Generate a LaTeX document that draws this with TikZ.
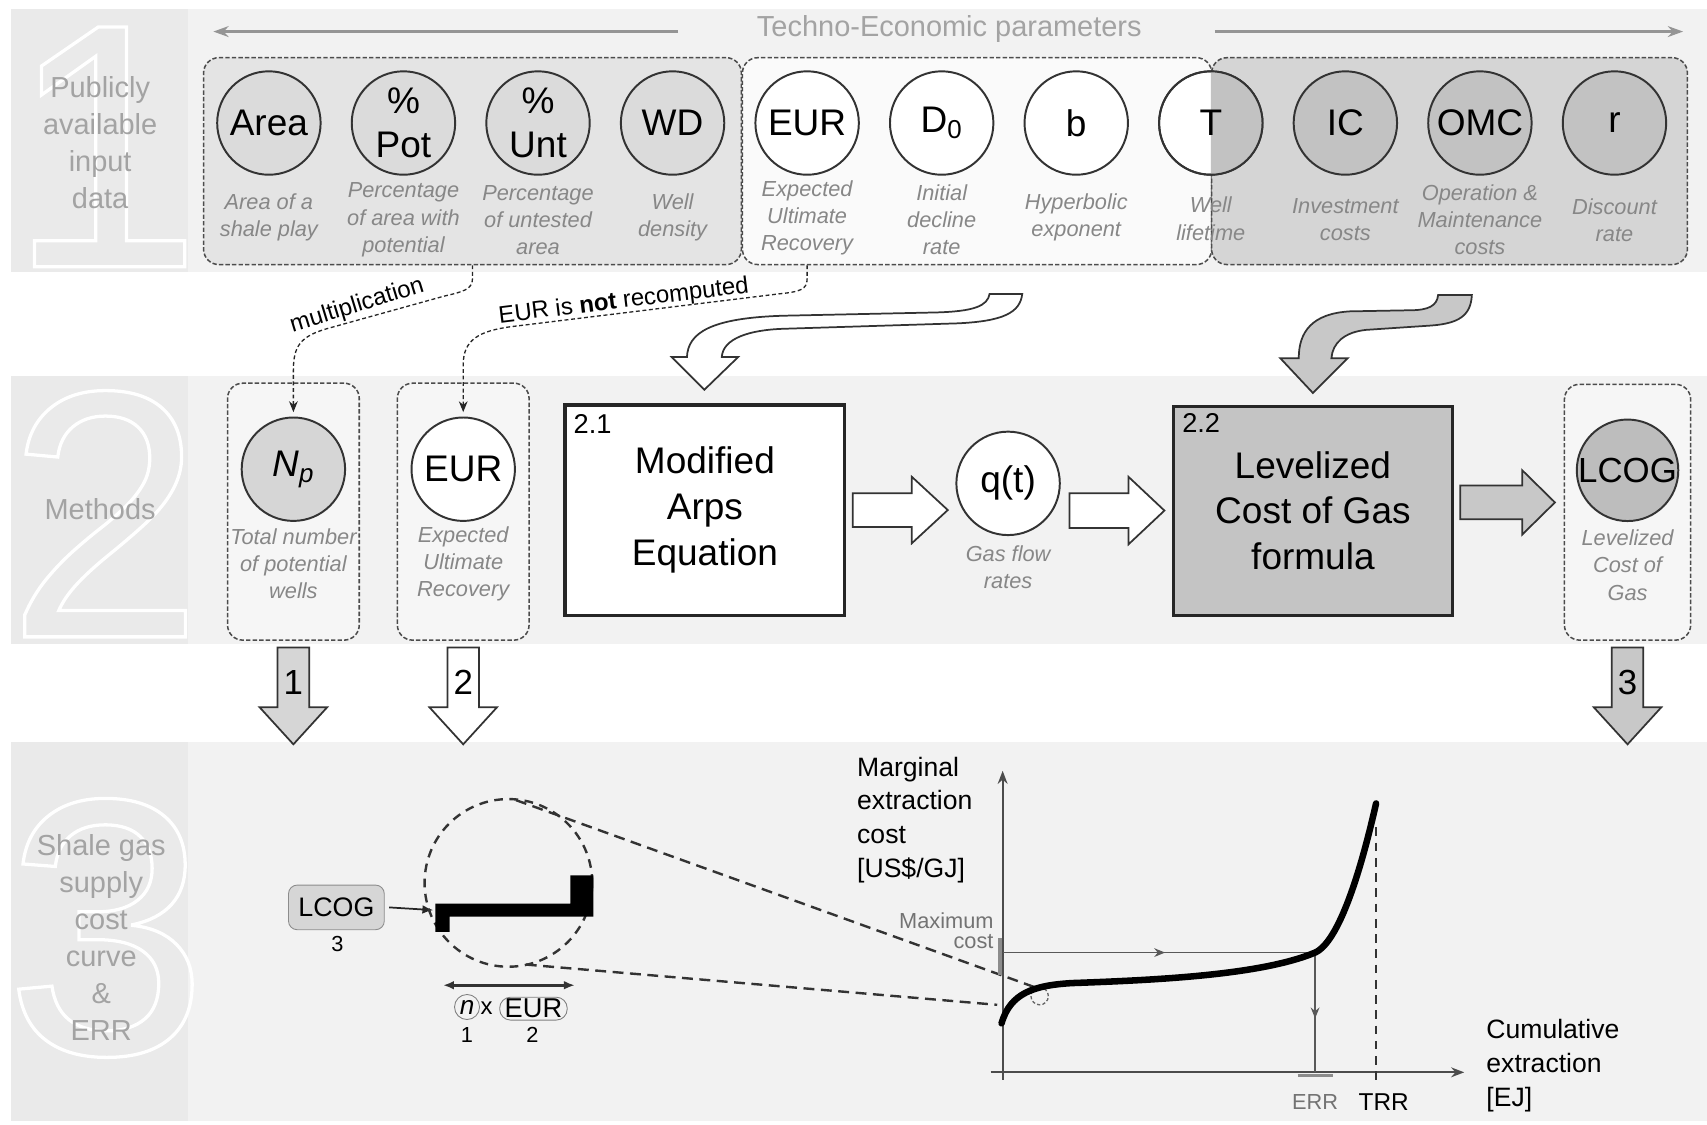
\documentclass[tikz,border=0pt]{standalone}
\usepackage{fontspec}
\setmainfont{Liberation Sans}
\usetikzlibrary{arrows.meta,calc,decorations.markings}
\definecolor{bandbg}{HTML}{F2F2F2}
\definecolor{sidebg}{HTML}{EAEAEA}
\definecolor{grpA}{HTML}{E4E4E4}
\definecolor{circA}{HTML}{DBDBDB}
\definecolor{grpB}{HTML}{FAFAFA}
\definecolor{grpC}{HTML}{D5D5D5}
\definecolor{circC}{HTML}{C2C2C2}
\definecolor{npfill}{HTML}{D6D6D6}
\definecolor{lcogfill}{HTML}{BDBDBD}
\definecolor{boxgray}{HTML}{C4C4C4}
\definecolor{arrgray}{HTML}{C8C8C8}
\definecolor{arrlight}{HTML}{D6D6D6}
\definecolor{innerbox}{HTML}{F6F6F6}
\definecolor{txtgray}{HTML}{878787}
\definecolor{sidetxt}{HTML}{A3A3A3}
\definecolor{linegray}{HTML}{959595}
\definecolor{edge}{HTML}{333333}
\newcommand\fCirc{\fontsize{17}{20}\selectfont}
\newcommand\fDesc{\fontsize{10}{12.5}\selectfont\itshape}
\newcommand\fSide{\fontsize{13.3}{17}\selectfont}
\newcommand\fBox{\fontsize{17}{21}\selectfont}
\newcommand\fLbl{\fontsize{11}{13}\selectfont}
\newcommand\fGraph{\fontsize{12.2}{15.5}\selectfont}
\newcommand\fNum{\fontsize{16}{18}\selectfont}
\newcommand\fTiny{\fontsize{10}{12}\selectfont}
\newcommand\outlinedigit[1]{\special{pdf:literal direct q 1 Tr 1.5 w 1 1 1 RG}#1\special{pdf:literal direct Q}}
\newcommand\blockH[6]{\draw[#1] ($(#2)+(0,-#4)$) -- ($(#3)+(-#6,-#4)$) -- ($(#3)+(-#6,-#5)$) -- (#3) -- ($(#3)+(-#6,#5)$) -- ($(#3)+(-#6,#4)$) -- ($(#2)+(0,#4)$) -- cycle;}
\newcommand\blockV[6]{\draw[#1] ($(#2)+(-#4,0)$) -- ($(#3)+(-#4,-#6)$) -- ($(#3)+(-#5,-#6)$) -- (#3) -- ($(#3)+(#5,-#6)$) -- ($(#3)+(#4,-#6)$) -- ($(#2)+(#4,0)$) -- cycle;}
\begin{document}
\begin{tikzpicture}[x=0.5pt,y=-0.5pt,
  circn/.style={circle, draw=edge, line width=0.9pt, minimum size=47.5pt, inner sep=0pt, font=\fCirc, align=center},
  descn/.style={font=\fDesc, text=txtgray, align=center, inner sep=0pt},
  grpbox/.style={draw=black!70, dash pattern=on 2pt off 1pt, line width=0.7pt, rounded corners=7pt, inner sep=0pt},
  dconn/.style={draw=black!85, dash pattern=on 1.8pt off 1.2pt, line width=0.6pt, -{Stealth[length=5pt,width=4pt]}},
  blockarr/.style={draw=edge, line width=0.8pt, line join=miter},
  sidelbl/.style={font=\fSide, text=sidetxt, align=center, inner sep=0pt},
  digitn/.style={inner sep=0pt, anchor=base west, text=sidebg},
  methbox/.style={draw=black!85, line width=1.4pt, inner sep=0pt, font=\fBox, align=center},
  axisl/.style={draw=black!70, line width=1pt},
  thinl/.style={draw=black!65, line width=0.7pt},
  midarrow/.style={postaction={decorate}, decoration={markings, mark=at position #1 with {\arrow{Stealth[length=5pt,width=4pt]}}}}
]
\useasboundingbox (0,0) rectangle (1568,1033);
\fill[white] (0,0) rectangle (1568,1033);
% bands
\fill[bandbg] (10,8) rectangle (1568,250);
\fill[sidebg] (10,8) rectangle (173,250);
\fill[bandbg] (10,345) rectangle (1568,592);
\fill[sidebg] (10,345) rectangle (173,592);
\fill[bandbg] (10,682) rectangle (1568,1030);
\fill[sidebg] (10,682) rectangle (173,1030);
\node[digitn, font=\fontsize{160}{160}\selectfont] (dig1) at (7,245) {\outlinedigit{1}};
\node[digitn, font=\fontsize{162}{162}\selectfont] (dig2) at (6,585) {\outlinedigit{2}};
\node[digitn, font=\fontsize{168}{168}\selectfont] (dig3) at (4,968) {\outlinedigit{3}};
\node[sidelbl] (side1) at (92,131) {Publicly\\available\\input\\data};
\node[sidelbl] (side2) at (92,468) {Methods};
\node[sidelbl] (side3) at (93,861) {Shale gas\\supply\\cost\\curve\\\&\\ERR};
% header
\node[font=\fSide, text=sidetxt, inner sep=0pt] (tep) at (872,27) {Techno-Economic parameters};
\coordinate (hl1) at (623,29); \coordinate (hl2) at (196,29);
\coordinate (hr1) at (1116,29); \coordinate (hr2) at (1546,29);
\draw[linegray, line width=1.2pt, -{Stealth[length=7pt,width=5pt]}] (hl1) -- (hl2);
\draw[linegray, line width=1.2pt, -{Stealth[length=7pt,width=5pt]}] (hr1) -- (hr2);
% groups
\node[grpbox, fill=grpA, minimum width=247pt, minimum height=95pt] (gA) at (434,148) {};
\node[grpbox, fill=grpB, minimum width=215.5pt, minimum height=95pt] (gB) at (897.5,148) {};
\node[grpbox, fill=grpC, minimum width=218.5pt, minimum height=95pt] (gC) at (1331.5,148) {};
% circles row 1
\node[circn, fill=circA] (area) at (247,113) {Area};
\node[circn, fill=circA] (pot) at (370.6,113) {\%\\Pot};
\node[circn, fill=circA] (unt) at (494.2,113) {\%\\Unt};
\node[circn, fill=circA] (wd) at (617.8,113) {WD};
\node[circn, fill=white] (eur) at (741.4,113) {EUR};
\node[circn, fill=white] (dzero) at (865,113) {D\textsubscript{0}};
\node[circn, fill=white] (bexp) at (988.6,113) {b};
\node[circn, fill=white] (tT) at (1112.2,113) {};
\begin{scope}
\clip (1112.2,50) rectangle (1175,180);
\fill[circC] (tT.center) circle (23.75pt);
\end{scope}
\node[circn] (tTl) at (1112.2,113) {T};
\node[circn, fill=circC] (ic) at (1235.8,113) {IC};
\node[circn, fill=circC] (omc) at (1359.4,113) {OMC};
\node[circn, fill=circC] (rr) at (1483,113) {r};
% descriptions row 1
\node[descn] (areaD) at (247,200) {Area of a\\shale play};
\node[descn] (potD) at (370.6,202) {Percentage\\of area with\\potential};
\node[descn] (untD) at (494.2,202) {Percentage\\of untested\\area};
\node[descn] (wdD) at (617.8,200) {Well\\density};
\node[descn] (eurD) at (741.4,200) {Expected\\Ultimate\\Recovery};
\node[descn] (dD) at (865,202) {Initial\\decline\\rate};
\node[descn] (bD) at (988.6,200) {Hyperbolic\\exponent};
\node[descn] (tD) at (1112.2,201) {Well\\lifetime};
\node[descn] (icD) at (1235.8,202) {Investment\\costs};
\node[descn] (omcD) at (1359.4,202) {Operation \&\\Maintenance\\costs};
\node[descn] (rD) at (1483,202) {Discount\\rate};
% row 2 boxes
\node[grpbox, fill=innerbox, minimum width=60.5pt, minimum height=118pt] (npbox) at (269.5,470) {};
\node[grpbox, fill=innerbox, minimum width=60.5pt, minimum height=118pt] (eurbox) at (425.5,470) {};
\node[grpbox, fill=innerbox, minimum width=58pt, minimum height=117.5pt] (lcogbox) at (1495,470.5) {};
\node[circn, fill=npfill] (np) at (269.5,431) {\textit{N\textsubscript{p}}};
\node[circn, fill=white] (eur2) at (425.5,431) {EUR};
\node[circn, fill=lcogfill, minimum size=46pt, font=\fontsize{16}{18}\selectfont] (lcog) at (1495,432) {LCOG};
\node[descn] (npD) at (269.5,518) {Total number\\of potential\\wells};
\node[descn] (eur2D) at (425.5,518) {Expected\\Ultimate\\Recovery};
\node[descn] (lcogD) at (1495,519) {Levelized\\Cost of\\Gas};
\node[methbox, fill=white, minimum width=128.5pt, minimum height=96.5pt] (b21) at (647.5,468.5) {Modified\\Arps\\Equation};
\node[methbox, fill=boxgray, minimum width=128pt, minimum height=96pt] (b22) at (1206,469) {Levelized\\Cost of Gas\\formula};
\node[font=\fontsize{12.5}{14}\selectfont, anchor=north west, inner sep=0pt] (l21) at ($(b21.north west)+(9,10)$) {2.1};
\node[font=\fontsize{12.5}{14}\selectfont, anchor=north west, inner sep=0pt] (l22) at ($(b22.north west)+(9,8)$) {2.2};
\node[circn, fill=white] (qt) at (926,444) {q(t)};
\node[descn] (qtD) at (926,521) {Gas flow\\rates};
% dashed connectors
\draw[dconn] (gA.south) -- (434,256) .. controls (434,266) and (425,268) .. (408,272) -- (300,302) .. controls (276,309) and (269.5,318) .. (269.5,340) -- ([yshift=2pt]np.north);
\coordinate (gBe) at (eur.center |- gB.south);
\draw[dconn] (gBe) -- (741.4,256) .. controls (741.4,266) and (735,268) .. (715,270) -- (470,300) .. controls (440,304) and (425.5,312) .. (425.5,335) -- ([yshift=2pt]eur2.north);
\node[font=\fLbl, rotate=17, inner sep=0pt] (mlbl) at (328,281) {multiplication};
\node[font=\fLbl, rotate=7, inner sep=0pt] (elbl) at (573,277) {EUR is \textbf{not} recomputed};
% curved block arrows
\draw[blockarr, fill=white] (617,328) -- (647,358) -- (678,328) -- (663,328) .. controls (664,311) and (688,303) .. (720,302) -- (880,297) .. controls (922,295) and (937,287) .. (939,270) -- (909,270) .. controls (907,281) and (895,286) .. (860,287) -- (720,290) .. controls (652,292) and (632,306) .. (631,328) -- cycle;
\draw[blockarr, fill=arrgray] (1176,329) -- (1206,361) -- (1238,329) -- (1223,329) .. controls (1224,315) and (1235,305) .. (1255,303) -- (1315,299) .. controls (1340,297) and (1351,290) .. (1352,271) -- (1321,271) .. controls (1320,281) and (1312,285) .. (1295,285) -- (1240,286) .. controls (1205,288) and (1193,305) .. (1193,329) -- cycle;
% straight block arrows
\coordinate (a1s) at ([xshift=3pt]b21.east);
\coordinate (a1e) at ($(qt.west |- a1s)+(-7,0)$);
\coordinate (a2s) at ($(qt.east |- b22.west)+(8,0)$);
\coordinate (a2e) at ($(b22.west)+(-7,0)$);
\coordinate (a3s) at ($(b22.east)+(6,-7.5)$);
\coordinate (a3e) at ($(lcogbox.west |- a3s)+(-8,0)$);
\blockH{blockarr, fill=white}{a1s}{a1e}{15.5}{30.5}{33}
\blockH{blockarr, fill=white}{a2s}{a2e}{16}{31}{33}
\blockH{blockarr, fill=arrgray}{a3s}{a3e}{15.5}{29.5}{30}
\coordinate (d1s) at ($(npbox.south)+(0,6)$);
\coordinate (d1e) at ($(npbox.south)+(0,95)$);
\coordinate (d2s) at ($(eurbox.south)+(0,6)$);
\coordinate (d2e) at ($(eurbox.south)+(0,95)$);
\coordinate (d3s) at ($(lcogbox.south)+(0,6)$);
\coordinate (d3e) at ($(lcogbox.south)+(0,95)$);
\blockV{blockarr, fill=arrlight}{d1s}{d1e}{14.5}{31}{34}
\blockV{blockarr, fill=white}{d2s}{d2e}{14.5}{31}{34}
\blockV{blockarr, fill=arrgray}{d3s}{d3e}{14.5}{31}{34}
\node[font=\fNum, inner sep=0pt] (n1) at ($(d1s)!0.36!(d1e)$) {1};
\node[font=\fNum, inner sep=0pt] (n2) at ($(d2s)!0.36!(d2e)$) {2};
\node[font=\fNum, inner sep=0pt] (n3) at ($(d3s)!0.36!(d3e)$) {3};
% band 3 left part
\node[rounded corners=4pt, draw=black!45, fill=arrlight, minimum width=44pt, minimum height=20.5pt, inner sep=0pt, font=\fontsize{12.3}{14}\selectfont] (lcogS) at (309,833.5) {LCOG};
\node[font=\fTiny, inner sep=0pt] (lcogN) at (310,867) {3};
\coordinate (stepL) at (398,836);
\draw[black!85, line width=0.8pt, -{Latex[length=5pt,width=4pt]}] ([xshift=2pt]lcogS.east) -- (stepL);
\node[circle, draw=black!80, dash pattern=on 4pt off 3pt, line width=1.1pt, minimum size=77pt, inner sep=0pt] (zc) at (467,811) {};
\fill[black] (400,856) -- (400,830) -- (524,830) -- (524,804) -- (545,804) -- (545,842) -- (413,842) -- (413,856) -- cycle;
\coordinate (zt) at (474,735); \coordinate (zb) at (483,886);
\coordinate (ct) at (951,907); \coordinate (cb) at (916,923);
\draw[black!80, dash pattern=on 5pt off 3pt, line width=1.1pt] (zt) -- (ct);
\draw[black!80, dash pattern=on 5pt off 3pt, line width=1.1pt] (zb) -- (cb);
\draw[black!60, dash pattern=on 1.5pt off 1pt, line width=0.6pt] (955,915) circle (4pt);
\coordinate (da1) at (407,905); \coordinate (da2) at (528,905);
\draw[black!80, line width=1.2pt, {Latex[length=5pt,width=4pt]}-{Latex[length=5pt,width=4pt]}] (da1) -- (da2);
\node[circle, draw=black!50, inner sep=0pt, minimum size=11.5pt, font=\itshape\fontsize{12}{12}\selectfont] (nc) at (429,925) {n};
\node[font=\fontsize{11}{12}\selectfont, inner sep=0pt] (xx) at (447,926) {x};
\node[rounded corners=5pt, draw=black!50, minimum width=31pt, minimum height=10.5pt, inner sep=0pt, font=\fontsize{12.5}{13}\selectfont] (eurS) at (490,926.5) {EUR};
\node[font=\fTiny, inner sep=0pt] (one) at (429,951) {1};
\node[font=\fTiny, inner sep=0pt] (two) at (489,951) {2};
% graph
\coordinate (yb) at (921,992); \coordinate (yt) at (921,708);
\coordinate (xb) at (910,985); \coordinate (xt) at (1345,985);
\draw[axisl, -{Stealth[length=6pt,width=4.5pt]}] (yb) -- (yt);
\draw[axisl, -{Stealth[length=6pt,width=4.5pt]}] (xb) -- (xt);
\draw[black!45, line width=2.2pt] (918.5,862) -- (918.5,896);
\draw[black!45, line width=1.5pt] (1192,988) -- (1224,988);
\coordinate (mc) at (921,875); \coordinate (errpt) at (1208,875); \coordinate (errax) at (1208,985);
\draw[thinl, midarrow=0.52] (mc) -- (errpt);
\draw[thinl, midarrow=0.55] (errpt) -- (errax);
\coordinate (trrt) at (1264,760); \coordinate (trrb) at (1264,993);
\draw[black!80, dash pattern=on 4pt off 3pt, line width=0.9pt] (trrt) -- (trrb);
\draw[black, line width=3pt, line cap=round] (920,940) .. controls (928,912) and (950,905) .. (985,903) .. controls (1070,900) and (1160,895) .. (1208,875) .. controls (1230,865) and (1250,800) .. (1264,738);
\node[font=\fGraph, align=left, anchor=west, inner sep=0pt] (ylab) at (787,753) {Marginal\\extraction\\cost\\{}[US\$/GJ]};
\node[font=\fGraph, align=left, anchor=west, inner sep=0pt] (xlab) at (1365,979) {Cumulative\\extraction\\{}[EJ]};
\node[font=\fontsize{10}{9}\selectfont, text=black!55, align=right, anchor=east, inner sep=0pt] (maxc) at (913,855) {Maximum\\cost};
\node[font=\fTiny, text=black!55, inner sep=0pt] (errl) at (1208,1012) {ERR};
\node[font=\fontsize{11.2}{13}\selectfont, inner sep=0pt] (trrl) at (1271,1012) {TRR};
\end{tikzpicture}
\end{document}
